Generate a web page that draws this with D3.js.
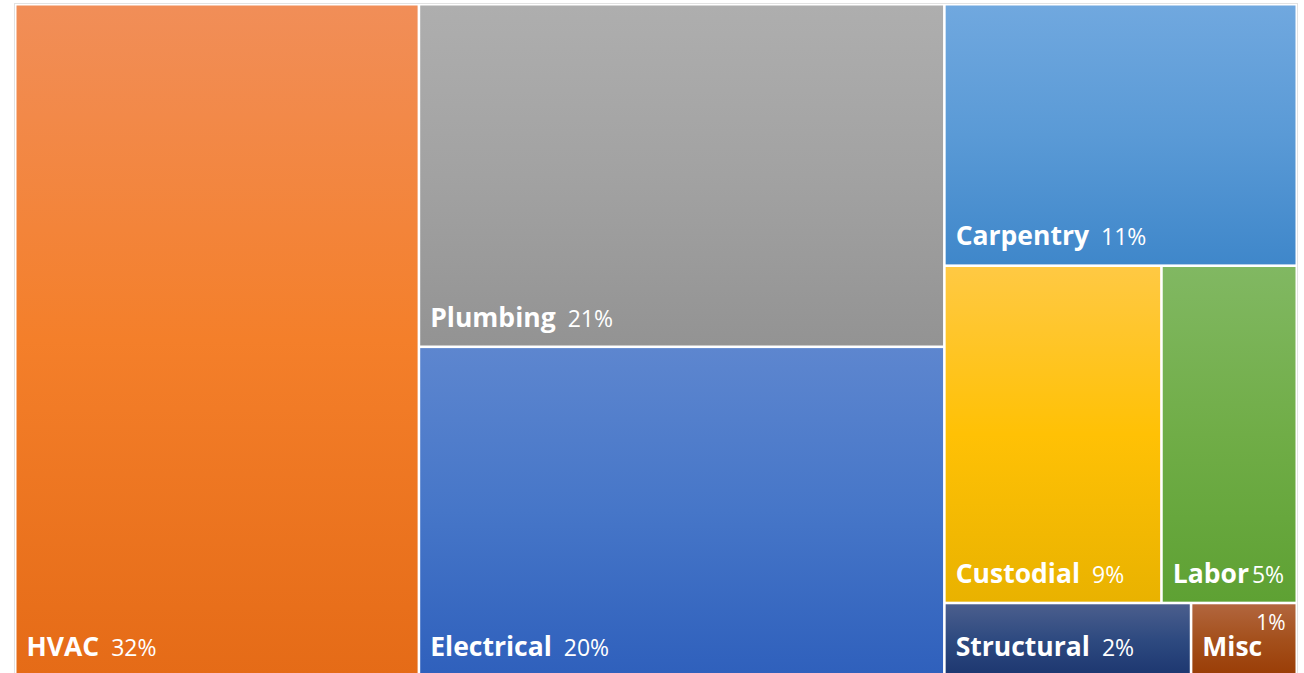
<!DOCTYPE html>
<html>
<head>
<meta charset="utf-8">
<script src="https://cdn.jsdelivr.net/npm/d3@7"></script>
<style>
  body { margin: 0; background: #fff; }
  svg text { font-family: "Open Sans", Lato, sans-serif; fill: #fff; }
</style>
</head>
<body>
<div id="chart"></div>
<script>
//  data
const names = ["HVAC", "Plumbing", "Electrical", "Carpentry", "Custodial", "Labor", "Structural", "Misc"];
const values = [31.5, 20.9, 20.1, 10.7, 8.5, 5.3, 2.1, 0.9];
const pctLabels = ["32%", "21%", "20%", "11%", "9%", "5%", "2%", "1%"];
// layout groups as the reference stacks them (column, then row inside column)
const columns = ["A", "B", "B", "C", "C", "C", "C", "C"];
const rows = [null, null, null, null, "r1", "r1", "r2", "r2"];
// gradient top / middle / bottom
const colTop = ["#F18E58", "#AEAEAE", "#5D86CF", "#70A8DF", "#FFC943", "#81B862", "#4B5E8D", "#B2663E"];
const colMid = ["#F47F2A", "#A2A2A2", "#4676C8", "#5A9AD6", "#FFC105", "#70AD47", "#2E4A80", "#A4501C"];
const colBot = ["#E56B17", "#939393", "#2F60BC", "#3F87CA", "#E9B200", "#5EA133", "#1D3770", "#9A3D06"];

function build_tree() {
  const root = {name: "root", children: []};
  names.forEach((n, i) => {
    let col = root.children.find(c => c.name == columns[i]);
    if (!col) { col = {name: columns[i], children: []}; root.children.push(col); }
    let parent = col;
    if (rows[i]) {
      let r = col.children.find(c => c.name == rows[i]);
      if (!r) { r = {name: rows[i], children: []}; col.children.push(r); }
      parent = r;
    }
    parent.children.push({name: n, idx: i, value: values[i]});
  });
  return root;
}

function draw() {
  const w = 1304, h = 673;
  const box = {x0: 16.5, y0: 5.5, x1: 1295.5, y1: 675};

  const svg = d3.select("#chart").append("svg").attr("width", w).attr("height", h);

  const root = d3.hierarchy(build_tree()).sum(d => d.value || 0);
  d3.treemap()
    .tile(d3.treemapSliceDice)
    .size([box.x1 - box.x0, box.y1 - box.y0])
    .paddingInner(2.6)(root);

  // outer frame
  svg.append("rect")
    .attr("x", 14.5).attr("y", 3.5)
    .attr("width", 1283).attr("height", 680)
    .attr("fill", "none").attr("stroke", "#e2e2e2");

  const defs = svg.append("defs");
  names.forEach((n, i) => {
    const g = defs.append("linearGradient").attr("id", "g" + i)
      .attr("x1", 0).attr("y1", 0).attr("x2", 0).attr("y2", 1);
    g.append("stop").attr("offset", "0%").attr("stop-color", colTop[i]);
    g.append("stop").attr("offset", "50%").attr("stop-color", colMid[i]);
    g.append("stop").attr("offset", "100%").attr("stop-color", colBot[i]);
  });

  const cell = svg.append("g").attr("transform", `translate(${box.x0},${box.y0})`)
    .selectAll("g").data(root.leaves()).enter().append("g");

  cell.append("rect")
    .attr("x", d => d.x0).attr("y", d => d.y0)
    .attr("width", d => d.x1 - d.x0).attr("height", d => d.y1 - d.y0)
    .attr("fill", d => `url(#g${d.data.idx})`);

  const fs = 26.5;
  cell.each(function(d) {
    const g = d3.select(this);
    const i = d.data.idx;
    if (names[i] == "Misc") {
      // tiny cell: percent sits top-right, name bottom-left
      g.append("text").attr("x", d.x1 - 10).attr("y", d.y0 + 26)
        .attr("text-anchor", "end").style("font-size", "21px").text(pctLabels[i]);
      g.append("text").attr("x", d.x0 + 10).attr("y", d.y1 - 19)
        .style("font-size", fs + "px").style("font-weight", "bold").text(names[i]);
      return;
    }
    const t = g.append("text").attr("x", d.x0 + 10).attr("y", d.y1 - 19)
      .style("font-size", fs + "px");
    t.append("tspan").style("font-weight", "bold").text(names[i]);
    const gap = (d.x1 - d.x0) < 160 ? 3 : 12;
    t.append("tspan").attr("dx", gap).style("font-size", "23px").text(pctLabels[i]);
  });
}

draw();
</script>
</body>
</html>
